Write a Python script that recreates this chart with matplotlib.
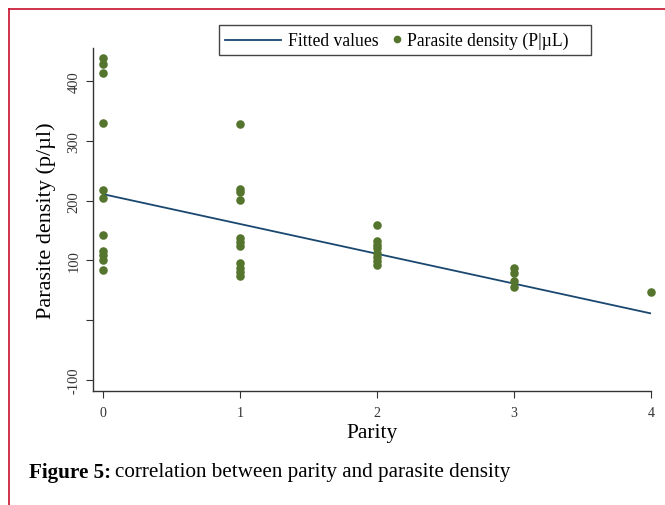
import matplotlib.pyplot as plt
from matplotlib.lines import Line2D
from matplotlib.patches import Rectangle

plt.rcParams['font.family'] = ['Liberation Serif', 'DejaVu Serif']

# parity groups and parasite density
parity_0 = [439, 430, 414, 330, 218, 205, 143, 115, 109, 101, 84]
parity_1 = [329, 219, 214, 202, 137, 130, 124, 95, 88, 80, 73]
parity_2 = [160, 133, 126, 120, 113, 106, 99, 93]
parity_3 = [88, 78, 66, 55]
parity_4 = [47]
groups = [parity_0, parity_1, parity_2, parity_3, parity_4]

fit_x = [0, 4]
fit_y = [211, 11]

y_ticks = [-100, 0, 100, 200, 300, 400]
y_labels = ['-100', '', '100', '200', '300', '400']
x_ticks = [0, 1, 2, 3, 4]

W, H = 665, 506
fig = plt.figure(figsize=(6.65, 5.06), dpi=100)
ax = fig.add_axes([93/W, 1-392/H, (651-93)/W, (392-49)/H])

green = '#55752f'
navy = '#1a476f'

px, py = [], []
for i, g in enumerate(groups):
    px += [i]*len(g)
    py += g

ax.plot(fit_x, fit_y, color=navy, lw=1.3, zorder=2)
ax.scatter(px, py, s=38, color=green, zorder=3, clip_on=False, linewidths=0)

ax.set_xlim(-0.073, 4.0)
ax.set_ylim(-119, 456)
ax.set_yticks(y_ticks)
ax.set_yticklabels(y_labels, rotation=90, va='center', fontsize=10.5, color='#333333')
ax.set_xticks(x_ticks)
ax.set_xticklabels([str(v) for v in x_ticks], fontsize=10, color='#333333')
ax.tick_params(axis='both', length=5, color='#333333', width=0.8)
ax.tick_params(axis='y', pad=4)
ax.tick_params(axis='x', pad=6)
for s in ['top', 'right']:
    ax.spines[s].set_visible(False)
for s in ['left', 'bottom']:
    ax.spines[s].set_color('#333333')
    ax.spines[s].set_linewidth(1.0)

ax.set_ylabel('Parasite density (p/µl)', fontsize=16, labelpad=8)
ax.set_xlabel('Parity', fontsize=15.5, labelpad=3)

# legend box drawn in pixel positions of the figure
fig.add_artist(Rectangle((219/W, 1-56/H), (591-219)/W, 30/H, facecolor='white',
                         edgecolor='#444444', lw=1.0))
fig.add_artist(Line2D([225/W, 281/W], [1-41/H, 1-41/H], color=navy, lw=1.3))
fig.text(288/W, 1-41/H, 'Fitted values', fontsize=12.7, va='center')
fig.add_artist(Line2D([397/W], [1-40/H], marker='o', ms=5.5, color=green, lw=0, mew=0))
fig.text(407/W, 1-41/H, 'Parasite density (P|µL)', fontsize=12.7, va='center')

t1 = fig.text(29/W, 1-473/H, 'Figure 5:', fontsize=15.2, fontweight='bold', va='center')
fig.canvas.draw()
bb = t1.get_window_extent()
fig.text((bb.x1 + 4)/W, 1-473/H, 'correlation between parity and parasite density', fontsize=15.2, va='center')

red = '#c8102e'
fig.add_artist(Line2D([8.5/W, 1], [1-9.5/H, 1-9.5/H], color=red, lw=1.2))
fig.add_artist(Line2D([8.5/W, 8.5/W], [0, 1-9.5/H], color=red, lw=1.2))

fig.savefig('out.png', dpi=100)
